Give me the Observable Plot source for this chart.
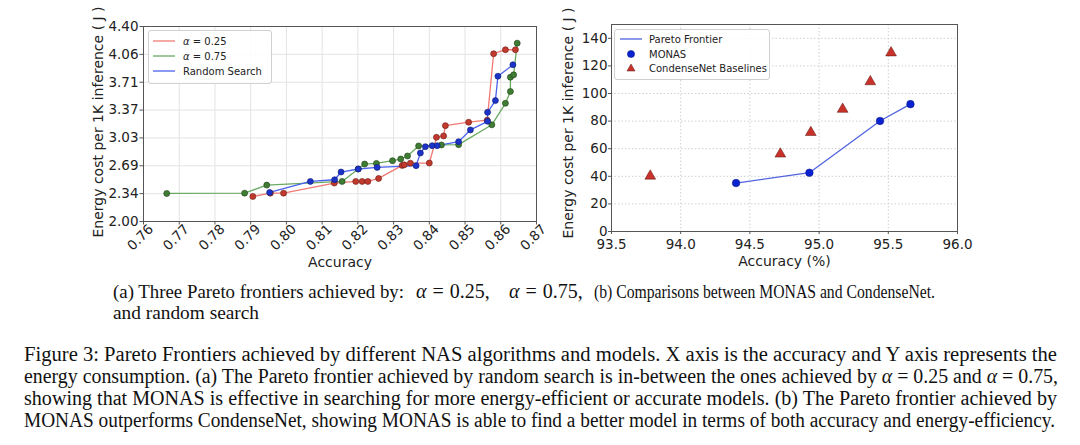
<!DOCTYPE html>
<html>
<head>
<meta charset="utf-8">
<script src="https://cdn.jsdelivr.net/npm/d3@7"></script>
<script src="https://cdn.jsdelivr.net/npm/@observablehq/plot@0.6"></script>
<style>
  html, body { margin: 0; padding: 0; background: white; }
  body { width: 1080px; height: 445px; position: relative; overflow: hidden; font-family: "DejaVu Sans", sans-serif; }
  .chart { position: absolute; top: 0; }
  .legend { position: absolute; background: rgba(255,255,255,0.85); border: 1px solid #d0d0d0; border-radius: 3px;
            font-family: "DejaVu Sans", sans-serif; font-size: 10px; color: #222; box-sizing: border-box; }
  .legend .row { position: absolute; left: 0; height: 14px; display: flex; align-items: center; white-space: nowrap; }
  .legend svg { display: block; }
  #captions { position: absolute; left: 0; top: 270px; }
</style>
</head>
<body>
<div id="left" class="chart" style="left:0px"></div>
<div id="right" class="chart" style="left:540px"></div>

<div class="legend" style="left:148px; top:30px; width:124px; height:54px;">
  <div class="row" style="top:3px"><svg width="34" height="14"><line x1="4" x2="26" y1="7" y2="7" stroke="#f07a74" stroke-width="1.3"/></svg><span><i>α</i> = 0.25</span></div>
  <div class="row" style="top:18px"><svg width="34" height="14"><line x1="4" x2="26" y1="7" y2="7" stroke="#6aaa62" stroke-width="1.3"/></svg><span><i>α</i> = 0.75</span></div>
  <div class="row" style="top:33px"><svg width="34" height="14"><line x1="4" x2="26" y1="7" y2="7" stroke="#4a62ee" stroke-width="1.3"/></svg><span>Random Search</span></div>
</div>

<div class="legend" style="left:614px; top:29px; width:156px; height:51px;">
  <div class="row" style="top:2px"><svg width="34" height="14"><line x1="5" x2="27" y1="7" y2="7" stroke="#5064e0" stroke-width="1.3"/></svg><span>Pareto Frontier</span></div>
  <div class="row" style="top:17px"><svg width="34" height="14"><circle cx="16" cy="7" r="3.6" fill="#0a22d0" stroke="#0a1680" stroke-width="0.5"/></svg><span>MONAS</span></div>
  <div class="row" style="top:31px"><svg width="34" height="14"><path d="M16,3 L20,10 L12,10 Z" fill="#c8322a" stroke="#5a1410" stroke-width="0.5"/></svg><span>CondenseNet Baselines</span></div>
</div>

<svg id="captions" width="1080" height="175" xmlns="http://www.w3.org/2000/svg"></svg>

<script>
// ---------------- Data: panel (a) ----------------
const leftXTicks = [0.76, 0.77, 0.78, 0.79, 0.80, 0.81, 0.82, 0.83, 0.84, 0.85, 0.86, 0.87];
const leftYTicks = [2.0, 2.342857, 2.685714, 3.028571, 3.371429, 3.714286, 4.057143, 4.4];

const alpha025Acc    = [0.7906, 0.7955, 0.7992, 0.8134, 0.8194, 0.8212, 0.8228, 0.8258, 0.8324, 0.8330, 0.8347, 0.8400, 0.8420, 0.8440, 0.8445, 0.8510, 0.8562, 0.8580, 0.8613, 0.8641];
const alpha025Energy = [2.308, 2.349, 2.349, 2.473, 2.493, 2.493, 2.493, 2.530, 2.690, 2.697, 2.718, 2.720, 3.036, 3.053, 3.180, 3.222, 3.247, 4.065, 4.114, 4.114];

const alpha075Acc    = [0.7665, 0.7883, 0.7945, 0.8156, 0.8201, 0.8219, 0.8252, 0.8297, 0.8320, 0.8339, 0.8370, 0.8434, 0.8482, 0.8575, 0.8613, 0.8627, 0.8627, 0.8636, 0.8646];
const alpha075Energy = [2.345, 2.349, 2.448, 2.493, 2.646, 2.707, 2.715, 2.748, 2.769, 2.806, 2.930, 2.942, 2.946, 3.190, 3.455, 3.600, 3.776, 3.805, 4.195];

const randomAcc    = [0.7953, 0.8067, 0.8135, 0.8153, 0.8201, 0.8254, 0.8363, 0.8375, 0.8389, 0.8408, 0.8422, 0.8482, 0.8515, 0.8563, 0.8563, 0.8585, 0.8592, 0.8634];
const randomEnergy = [2.357, 2.493, 2.514, 2.609, 2.646, 2.666, 2.687, 2.843, 2.921, 2.933, 2.933, 2.983, 3.127, 3.233, 3.344, 3.488, 3.788, 3.929];

// ---------------- Data: panel (b) ----------------
const rightXTicks = [93.5, 94.0, 94.5, 95.0, 95.5, 96.0];
const rightYTicks = [0, 20, 40, 60, 80, 100, 120, 140];
const monasAcc    = [94.40, 94.93, 95.44, 95.66];
const monasEnergy = [35.1, 42.6, 80.1, 92.3];
const condenseAcc    = [93.78, 94.72, 94.94, 95.17, 95.37, 95.52];
const condenseEnergy = [40.2, 56.2, 71.8, 88.6, 108.6, 129.5];

// ---------------- Text ----------------
const leftYLabel = "Energy cost per 1K inference ( J )";
const rightYLabel = "Energy cost per 1K inference ( J )";
const leftXLabel = "Accuracy";
const rightXLabel = "Accuracy (%)";

const zip = (xs, ys) => xs.map((x, i) => ({x, y: ys[i]}));
const red = zip(alpha025Acc, alpha025Energy);
const green = zip(alpha075Acc, alpha075Energy);
const blue = zip(randomAcc, randomEnergy);
const monas = zip(monasAcc, monasEnergy);
const condense = zip(condenseAcc, condenseEnergy);

const FONT = "DejaVu Sans, sans-serif";

const leftChart = Plot.plot({
  width: 560, height: 280,
  marginLeft: 143, marginRight: 24, marginTop: 26, marginBottom: 59,
  x: {domain: [0.76, 0.87]},
  y: {domain: [2.0, 4.4]},
  style: {fontFamily: FONT, fontSize: "13.5px", color: "#222", background: "transparent", overflow: "visible"},
  marks: [
    Plot.gridX(leftXTicks, {stroke: "#e3e3e3", strokeOpacity: 1}),
    Plot.gridY(leftYTicks, {stroke: "#e3e3e3", strokeOpacity: 1}),
    Plot.frame({stroke: "#555"}),
    Plot.axisY({ticks: leftYTicks, tickFormat: d => d.toFixed(2), tickSize: 3.5, tickPadding: 1.5, label: null, stroke: "#555"}),
    Plot.axisX({ticks: leftXTicks, tickFormat: () => "", tickSize: 3.5, label: null, stroke: "#555"}),
    Plot.text(leftXTicks, {x: d => d, frameAnchor: "bottom", dy: 19, rotate: -45, text: d => d.toFixed(2), textAnchor: "middle", fontSize: 13.5, fill: "#222"}),
    Plot.text([leftXLabel], {frameAnchor: "bottom", dy: 45, fontSize: 14, fill: "#222"}),
    Plot.text([leftYLabel], {frameAnchor: "left", dx: -45, dy: -2, rotate: -90, textAnchor: "middle", fontSize: 14, fill: "#222"}),
    Plot.line(red, {x: "x", y: "y", stroke: "#f07a74", strokeWidth: 1.3}),
    Plot.line(green, {x: "x", y: "y", stroke: "#6aaa62", strokeWidth: 1.3}),
    Plot.line(blue, {x: "x", y: "y", stroke: "#4a62ee", strokeWidth: 1.3}),
    Plot.dot(red, {x: "x", y: "y", r: 3, fill: "#c23a2e", stroke: "#6a1a12", strokeWidth: 0.6}),
    Plot.dot(green, {x: "x", y: "y", r: 3, fill: "#3f7d32", stroke: "#1d3a16", strokeWidth: 0.6}),
    Plot.dot(blue, {x: "x", y: "y", r: 3, fill: "#1c32c8", stroke: "#0e1c70", strokeWidth: 0.6})
  ]
});
document.getElementById("left").appendChild(leftChart);

const rightChart = Plot.plot({
  width: 540, height: 280,
  marginLeft: 71, marginRight: 123, marginTop: 24, marginBottom: 49,
  x: {domain: [93.5, 96.0]},
  y: {domain: [0, 150]},
  style: {fontFamily: FONT, fontSize: "13.5px", color: "#222", background: "transparent", overflow: "visible"},
  marks: [
    Plot.gridX(rightXTicks, {stroke: "#cfcfcf", strokeOpacity: 1, strokeDasharray: "1.5,2"}),
    Plot.gridY(rightYTicks, {stroke: "#cfcfcf", strokeOpacity: 1, strokeDasharray: "1.5,2"}),
    Plot.frame({stroke: "#555"}),
    Plot.axisY({ticks: rightYTicks, tickFormat: d => String(d), tickSize: 3, tickPadding: 1, label: null, stroke: "#555"}),
    Plot.axisX({ticks: rightXTicks, tickFormat: d => d.toFixed(1), tickSize: 3, tickPadding: 5, label: null, stroke: "#555"}),
    Plot.text([rightXLabel], {frameAnchor: "bottom", dy: 34, fontSize: 14, fill: "#222"}),
    Plot.text([rightYLabel], {frameAnchor: "left", dx: -43, dy: -5, rotate: -90, textAnchor: "middle", fontSize: 14, fill: "#222"}),
    Plot.line(monas, {x: "x", y: "y", stroke: "#5064e0", strokeWidth: 1.3}),
    Plot.dot(monas, {x: "x", y: "y", r: 3.8, fill: "#0a22d0", stroke: "#0a1680", strokeWidth: 0.5}),
    Plot.dot(condense, {x: "x", y: "y", r: 4, symbol: "triangle", fill: "#c8322a", stroke: "#5a1410", strokeWidth: 0.5})
  ]
});
document.getElementById("right").appendChild(rightChart);

// ---------------- Captions ----------------
const cap = d3.select("#captions");
const serif = "Liberation Serif, Times New Roman, serif";
function line(x, y, size, len) {
  const t = cap.append("text").attr("x", x).attr("y", y)
    .attr("font-family", serif).attr("font-size", size).attr("fill", "#111");
  if (len) t.attr("textLength", len).attr("lengthAdjust", "spacingAndGlyphs");
  return t;
}
function rich(t, parts) {
  parts.forEach(p => {
    const s = t.append("tspan").text(p.t);
    if (p.i) s.attr("font-style", "italic");
    if (p.dx) s.attr("dx", p.dx);
  });
}
rich(line(113, 28, 19, 291), [{t: "(a) Three Pareto frontiers achieved by:"}]);
rich(line(416, 28, 20), [{t: "α", i: 1}, {t: "=", dx: 6}, {t: "0.25,", dx: 6}]);
rich(line(509, 28, 20), [{t: "α", i: 1}, {t: "=", dx: 6}, {t: "0.75,", dx: 6}]);
rich(line(594, 28, 19, 341), [{t: "(b) Comparisons between MONAS and CondenseNet."}]);
rich(line(113, 49, 19, 146), [{t: "and random search"}]);

rich(line(24, 91, 20, 1033), [{t: "Figure 3:  Pareto Frontiers achieved by different NAS algorithms and models. X axis is the accuracy and Y axis represents the"}]);
rich(line(24, 113, 20, 1034), [{t: "energy consumption. (a) The Pareto frontier achieved by random search is in-between the ones achieved by "}, {t: "α", i: 1}, {t: " = 0.25 and "}, {t: "α", i: 1}, {t: " = 0.75,"}]);
rich(line(24, 135, 20, 1033), [{t: "showing that MONAS is effective in searching for more energy-efficient or accurate models. (b) The Pareto frontier achieved by"}]);
rich(line(24, 157, 20, 1031), [{t: "MONAS outperforms CondenseNet, showing MONAS is able to find a better model in terms of both accuracy and energy-efficiency."}]);
</script>
</body>
</html>
